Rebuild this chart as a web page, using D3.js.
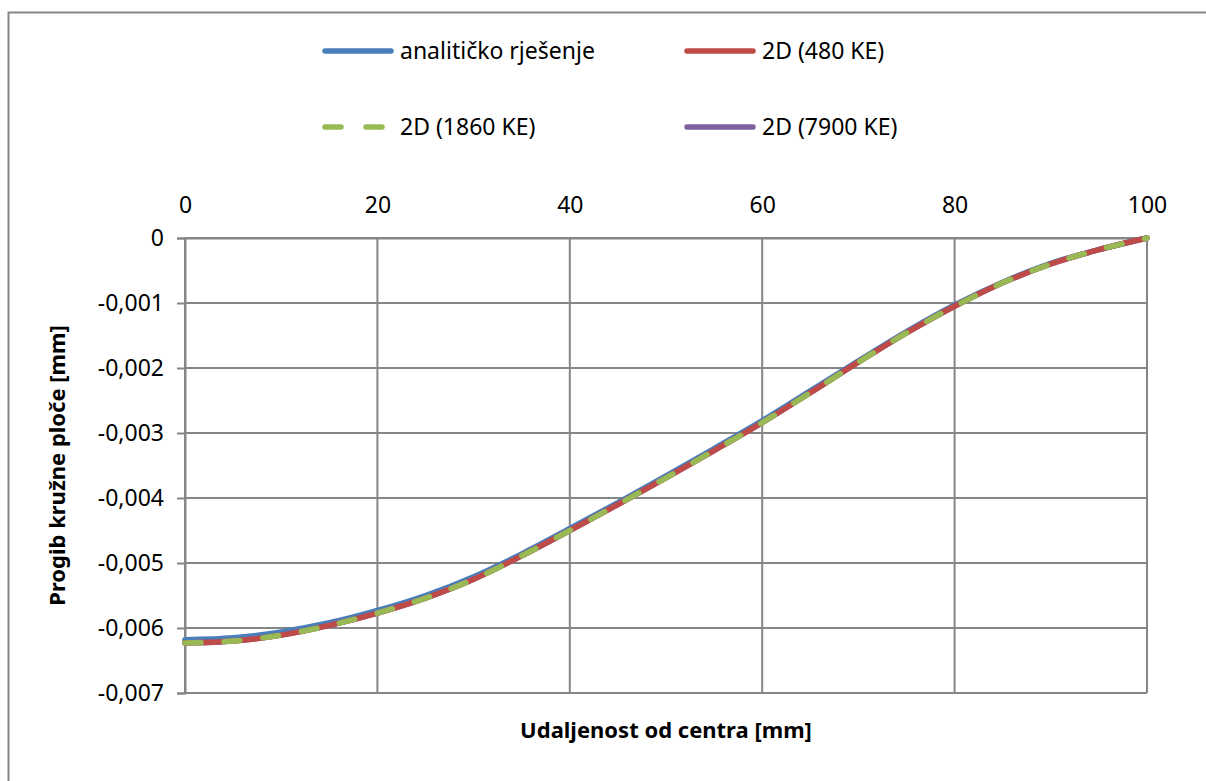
<!DOCTYPE html>
<html>
<head>
<meta charset="utf-8">
<script src="https://cdn.jsdelivr.net/npm/d3@7"></script>
<style>
  html, body { margin: 0; padding: 0; background: #ffffff; }
  svg { display: block; }
  text { font-family: "Noto Sans", "Open Sans", sans-serif; fill: #000; }
</style>
</head>
<body>
<script>
// ---- data ----
const distance = [0, 5, 10, 15, 20, 25, 30, 35, 40, 45, 50, 55, 60, 65, 70, 75, 80, 85, 90, 95, 100];
const analytic = [-0.00618, -0.00615, -0.00606, -0.00592, -0.00573, -0.00550, -0.00521, -0.00486, -0.00447, -0.00407, -0.00366, -0.00324, -0.00281, -0.00235, -0.00189, -0.00144, -0.00103, -0.00068, -0.00039, -0.00018, 0];
const fe480  = [-0.00623, -0.00620, -0.00611, -0.00596, -0.00577, -0.00554, -0.00525, -0.00489, -0.00450, -0.00410, -0.00369, -0.00327, -0.00284, -0.00238, -0.00191, -0.00146, -0.00105, -0.00069, -0.00040, -0.00018, 0];
const fe1860 = [-0.00623, -0.00620, -0.00611, -0.00596, -0.00577, -0.00554, -0.00525, -0.00489, -0.00450, -0.00410, -0.00369, -0.00327, -0.00284, -0.00238, -0.00191, -0.00146, -0.00105, -0.00069, -0.00040, -0.00018, 0];
const fe7900 = [-0.00623, -0.00620, -0.00611, -0.00596, -0.00577, -0.00554, -0.00525, -0.00489, -0.00450, -0.00410, -0.00369, -0.00327, -0.00284, -0.00238, -0.00191, -0.00146, -0.00105, -0.00069, -0.00040, -0.00018, 0];
const seriesNames = ["analitičko rješenje", "2D (480 KE)", "2D (1860 KE)", "2D (7900 KE)"];
const xTicks = [0, 20, 40, 60, 80, 100];
const yTicks = [0, -0.001, -0.002, -0.003, -0.004, -0.005, -0.006, -0.007];
const xTitle = "Udaljenost od centra [mm]";
const yTitle = "Progib kružne ploče [mm]";

// ---- layout ----
const W = 1206, H = 781;
const plot = { left: 185, right: 1147, top: 238, bottom: 693 };
const grey = "#868686";
const colors = { blue: "#4A7EBB", red: "#BE4B48", green: "#98B954", purple: "#7D60A0" };
const LW = 5.5;
const FS = 23;
const FT = 22;

const svg = d3.select("body").append("svg").attr("width", W).attr("height", H);

// outer frame
svg.append("rect").attr("x", 8.5).attr("y", 12.5).attr("width", W + 20).attr("height", H + 20)
  .attr("fill", "#fff").attr("stroke", grey).attr("stroke-width", 2);

const x = d3.scaleLinear().domain([0, 100]).range([plot.left, plot.right]);
const y = d3.scaleLinear().domain([-0.007, 0]).range([plot.bottom, plot.top]);

// grid lines
const grid = svg.append("g");
grid.selectAll("line.h").data(yTicks).join("line")
  .attr("x1", plot.left).attr("x2", plot.right)
  .attr("y1", d => y(d)).attr("y2", d => y(d))
  .attr("stroke", grey).attr("stroke-width", 2);
grid.selectAll("line.v").data(xTicks).join("line")
  .attr("y1", plot.top).attr("y2", plot.bottom)
  .attr("x1", d => x(d)).attr("x2", d => x(d))
  .attr("stroke", grey).attr("stroke-width", 2);

const fmt = v => (v === 0 ? "0" : d3.format(".3f")(v).replace("−", "-").replace(".", ","));

// y axis
const yAxis = svg.append("g").attr("transform", `translate(${plot.left},0)`)
  .call(d3.axisLeft(y).tickValues(yTicks).tickSize(8).tickPadding(13).tickFormat(fmt));
yAxis.select(".domain").attr("stroke", grey).attr("stroke-width", 2);
yAxis.selectAll(".tick line").attr("stroke", grey).attr("stroke-width", 2);
yAxis.selectAll("text").attr("font-size", FS).attr("font-family", "'Noto Sans', sans-serif").attr("fill", "#000");

// x axis (top, at zero)
const xAxis = svg.append("g").attr("transform", `translate(0,${y(0)})`)
  .call(d3.axisTop(x).tickValues(xTicks).tickSize(0).tickPadding(25).tickFormat(d3.format("d")));
xAxis.select(".domain").attr("stroke", grey).attr("stroke-width", 2);
xAxis.selectAll("text").attr("font-size", FS).attr("font-family", "'Noto Sans', sans-serif").attr("fill", "#000");

// series
const line = d3.line().x((d, i) => x(distance[i])).y(d => y(d)).curve(d3.curveMonotoneX);
const seriesDefs = [
  { vals: analytic, color: colors.blue, dash: null },
  { vals: fe7900, color: colors.purple, dash: null },
  { vals: fe480, color: colors.red, dash: null },
  { vals: fe1860, color: colors.green, dash: "16,23" }
];
seriesDefs.forEach(s => {
  svg.append("path").attr("d", line(s.vals)).attr("fill", "none")
    .attr("stroke", s.color).attr("stroke-width", LW)
    .attr("stroke-linecap", "round").attr("stroke-linejoin", "round")
    .attr("stroke-dasharray", s.dash);
});

// legend
const legendItems = [
  { name: seriesNames[0], color: colors.blue, dash: null, lx: 323, ly: 51 },
  { name: seriesNames[1], color: colors.red, dash: null, lx: 685, ly: 51 },
  { name: seriesNames[2], color: colors.green, dash: "16,25", lx: 323, ly: 127 },
  { name: seriesNames[3], color: colors.purple, dash: null, lx: 685, ly: 127 }
];
const lg = svg.append("g");
legendItems.forEach(it => {
  lg.append("line").attr("x1", it.lx + 2).attr("x2", it.lx + 68).attr("y1", it.ly).attr("y2", it.ly)
    .attr("stroke", it.color).attr("stroke-width", LW).attr("stroke-linecap", "round")
    .attr("stroke-dasharray", it.dash);
  lg.append("text").attr("x", it.lx + 77).attr("y", it.ly).attr("dy", "0.35em")
    .attr("font-size", FS).text(it.name);
});

// axis titles
svg.append("text").attr("x", (plot.left + plot.right) / 2).attr("y", 730).attr("dy", "0.35em")
  .attr("text-anchor", "middle").attr("font-weight", "bold").attr("font-size", FT).text(xTitle);
svg.append("text").attr("transform", `translate(57,${(plot.top + plot.bottom) / 2}) rotate(-90)`)
  .attr("dy", "0.35em").attr("text-anchor", "middle").attr("font-weight", "bold").attr("font-size", FT).text(yTitle);
</script>
</body>
</html>
